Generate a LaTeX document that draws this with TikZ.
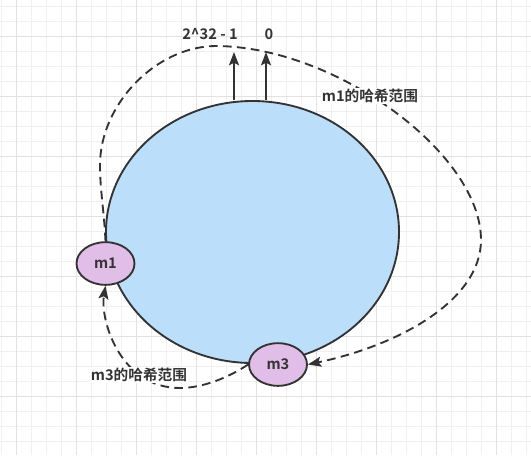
\documentclass[tikz,border=0pt]{standalone}
\usepackage{fontspec}
\setmainfont{Noto Sans CJK SC}[BoldFont={Noto Sans CJK SC Bold}]
\usepackage{tikz}
\usetikzlibrary{arrows.meta,positioning,shapes.geometric}
\definecolor{ringblue}{HTML}{BBDEFA}
\definecolor{nodepurple}{HTML}{E1BEE7}
\definecolor{inkgray}{HTML}{333333}
\definecolor{gridminor}{HTML}{F0F0F0}
\definecolor{gridmajor}{HTML}{E2E2E2}

\begin{document}
\begin{tikzpicture}[x=0.75pt,y=-0.75pt,>={Stealth[length=10pt,width=7.5pt,inset=2pt]},
  every node/.style={font=\fontsize{11}{13}\selectfont\bfseries,text=inkgray},
  machine/.style={draw=inkgray,line width=1.4pt,ellipse,fill=nodepurple,minimum width=43.5pt,minimum height=32pt,inner sep=0pt},
  hashrange/.style={draw=inkgray,line width=1.4pt,dash pattern=on 6.5pt off 4pt,->},
  rangelbl/.style={fill=white,inner sep=1pt}]
\useasboundingbox (0,0) rectangle (531,455);
% grid
\fill[white] (0,0) rectangle (531,455);
\foreach \gx in {1.7,16.7,...,531} \draw[gridminor,line width=0.75pt] (\gx,0) -- (\gx,455);
\foreach \gy in {6.7,21.7,...,455} \draw[gridminor,line width=0.75pt] (0,\gy) -- (531,\gy);
\foreach \gx in {16.7,76.7,...,531} \draw[gridmajor,line width=0.75pt] (\gx,0) -- (\gx,455);
\foreach \gy in {36.7,96.7,...,455} \draw[gridmajor,line width=0.75pt] (0,\gy) -- (531,\gy);

% hash ring
\node[draw=inkgray,line width=1.4pt,ellipse,fill=ringblue,minimum width=219.75pt,minimum height=196.5pt,inner sep=0pt] (ring) at (252.5,232) {};

% ends of the hash space
\node (maxlbl) at (210,34) {2\textasciicircum 32 - 1};
\node (zerolbl) at (269,34) {0};
\coordinate (maxtip) at (234,52);
\coordinate (zerotip) at (266,52);
\draw[->,inkgray,line width=1.5pt] (maxtip |- ring.north) -- (maxtip);
\draw[->,inkgray,line width=1.5pt] (zerotip |- ring.north) -- (zerotip);

% machines
\node[machine] (m1) at (105.5,263.5) {m1};
\node[machine] (m3) at (278,364.5) {m3};

% ranges
\draw[hashrange] (m1.north) .. controls (104,210) and (100,190) .. (100,165)
  .. controls (100,105) and (155,47) .. (215,46)
  .. controls (334.7,46) and (481,153) .. (481,240)
  .. controls (481,300) and (400,345) .. (m3.east);
\node[rangelbl] (m1lbl) at (370,96) {m1的哈希范围};
\draw[hashrange] (m3.west) .. controls (228,378) and (202,388) .. (180,388)
  .. controls (120,388) and (100,320) .. (m1.south);
\node[rangelbl] (m3lbl) at (139,375) {m3的哈希范围};
\end{tikzpicture}
\end{document}
